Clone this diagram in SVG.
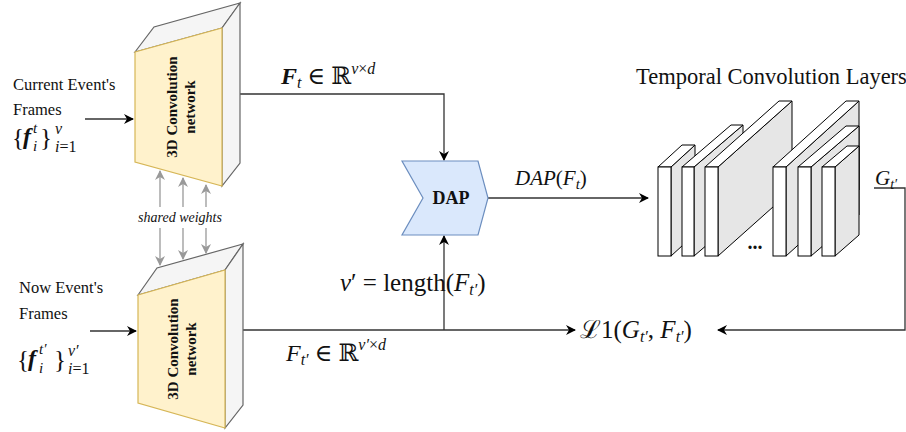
<svg xmlns="http://www.w3.org/2000/svg" width="906" height="432" viewBox="0 0 906 432">
<defs>
<marker id="ah" viewBox="0 0 10 10" refX="9" refY="5" markerWidth="10" markerHeight="10" markerUnits="userSpaceOnUse" orient="auto">
<path d="M0,0 L10,5 L0,10 L3,5 z" fill="#000"/>
</marker>
<marker id="ahg" viewBox="0 0 10 10" refX="9" refY="5" markerWidth="10" markerHeight="10" markerUnits="userSpaceOnUse" orient="auto">
<path d="M0,0 L10,5 L0,10 L3,5 z" fill="#999"/>
</marker>
<style>
.t{font-family:"Liberation Serif","DejaVu Serif",serif;fill:#111;}
.m{font-family:"Liberation Serif","DejaVu Serif",serif;fill:#111;}
.i{font-style:italic;}
.b{font-weight:bold;}
.front{fill:#fff2cc;stroke:#d6b656;stroke-width:1.2;}
.side{fill:#f5f5f5;stroke:#666;stroke-width:1.2;}
.ln{fill:none;stroke:#333;stroke-width:1.3;}
.lg{fill:none;stroke:#999;stroke-width:1.3;}
.sf{fill:#fff;stroke:#000;stroke-width:1;}
.ss{fill:#e6e6e6;stroke:#000;stroke-width:1;}
</style>
</defs>
<rect width="906" height="432" fill="#fff"/>

<g id="connectors">
<path class="ln" d="M85,119 L133,119" marker-end="url(#ah)"/>
<path class="ln" d="M90,331 L136,331" marker-end="url(#ah)"/>
<path class="ln" d="M240,94 L444,94 L444,160" marker-end="url(#ah)"/>
<path class="ln" d="M243,330 L575,330" marker-end="url(#ah)"/>
<path class="ln" d="M444,330 L444,236" marker-end="url(#ah)"/>
<path class="ln" d="M488,198 L648,198" marker-end="url(#ah)"/>
<path class="ln" d="M874,188 L905,188 L905,330 L718,330" marker-end="url(#ah)"/>
<path class="lg" d="M160,207 L160,171" marker-end="url(#ahg)"/>
<path class="lg" d="M183,207 L183,178" marker-end="url(#ahg)"/>
<path class="lg" d="M206,207 L206,185" marker-end="url(#ahg)"/>
<path class="lg" d="M160,228 L160,265" marker-end="url(#ahg)"/>
<path class="lg" d="M183,228 L183,259" marker-end="url(#ahg)"/>
<path class="lg" d="M206,228 L206,253" marker-end="url(#ahg)"/>
</g>

<g id="conv3d-top">
<path class="side" d="M135,52 L154,27 L240,3 L222,28 z"/>
<path class="side" d="M222,28 L240,3 L240,163 L222,186 z"/>
<path class="front" d="M135,52 L222,28 L222,186 L135,162 z"/>
<text class="t b" font-size="15" text-anchor="middle" transform="translate(177,107) rotate(-90)">3D Convolution</text>
<text class="t b" font-size="15" text-anchor="middle" transform="translate(195,107) rotate(-90)">network</text>
</g>

<g id="conv3d-bottom">
<path class="side" d="M138,295 L157,268 L243,244 L225,270 z"/>
<path class="side" d="M225,270 L243,244 L243,405 L225,428 z"/>
<path class="front" d="M138,295 L225,270 L225,428 L138,403 z"/>
<text class="t b" font-size="15" text-anchor="middle" transform="translate(178,349) rotate(-90)">3D Convolution</text>
<text class="t b" font-size="15" text-anchor="middle" transform="translate(196,349) rotate(-90)">network</text>
</g>

<g id="dap">
<path d="M402,161 L478,161 L488,198 L478,235 L402,235 L423,198 z" fill="#dae8fc" stroke="#6c8ebf" stroke-width="1.2"/>
<text class="t b" font-size="18" x="451" y="204" text-anchor="middle">DAP</text>
</g>

<g id="temporal-layers">
<path class="ss" d="M671,167 L695,145 L695,234 L671,256 z"/>
<path class="sf" d="M658,167 L682,145 L695,145 L671,167 z"/>
<rect class="sf" x="658" y="167" width="13" height="89"/>
<path class="ss" d="M694,167 L743,125 L743,214 L694,256 z"/>
<path class="sf" d="M682,167 L731,125 L743,125 L694,167 z"/>
<rect class="sf" x="682" y="167" width="12" height="89"/>
<path class="ss" d="M718,167 L792,101 L792,190 L718,256 z"/>
<path class="sf" d="M705,167 L779,101 L792,101 L718,167 z"/>
<rect class="sf" x="705" y="167" width="13" height="89"/>
<path class="ss" d="M786,167 L859,101 L859,190 L786,256 z"/>
<path class="sf" d="M773,167 L846,101 L859,101 L786,167 z"/>
<rect class="sf" x="773" y="167" width="13" height="89"/>
<path class="ss" d="M811,167 L859,126 L859,215 L811,256 z"/>
<path class="sf" d="M798,167 L846,126 L859,126 L811,167 z"/>
<rect class="sf" x="798" y="167" width="13" height="89"/>
<path class="ss" d="M835,167 L859,146 L859,235 L835,256 z"/>
<path class="sf" d="M822,167 L847,146 L859,146 L835,167 z"/>
<rect class="sf" x="822" y="167" width="13" height="89"/>
<text class="t b" font-size="20" x="755" y="249" text-anchor="middle">...</text>
</g>

<g id="labels">
<text class="t" font-size="16.5" x="13" y="90">Current Event's</text>
<text class="t" font-size="16.5" x="13" y="115">Frames</text>
<text class="t" font-size="16.5" x="19" y="293">Now Event's</text>
<text class="t" font-size="16.5" x="19" y="319">Frames</text>
<text class="t i" font-size="14" x="180" y="222" text-anchor="middle">shared weights</text>
<text class="t" font-size="22.5" x="636" y="84">Temporal Convolution Layers</text>

<!-- {f_i^t}_{i=1}^v -->
<text class="m" font-size="25" x="12" y="146">{</text>
<text class="m i b" font-size="24" x="23" y="144">f</text>
<text class="m i" font-size="15" x="33" y="133">t</text>
<text class="m i" font-size="15" x="33" y="151">i</text>
<text class="m" font-size="25" x="40" y="146">}</text>
<text class="m i" font-size="16" x="55" y="134">v</text>
<text class="m" font-size="16" x="55" y="152"><tspan font-style="italic">i</tspan>=1</text>

<!-- {f_i^t'}_{i=1}^v' -->
<text class="m" font-size="25" x="17" y="368">{</text>
<text class="m i b" font-size="24" x="28" y="366">f</text>
<text class="m i" font-size="15" x="39" y="354">t′</text>
<text class="m i" font-size="15" x="39" y="373">i</text>
<text class="m" font-size="25" x="54" y="368">}</text>
<text class="m i" font-size="16" x="68" y="356">v′</text>
<text class="m" font-size="16" x="68" y="374"><tspan font-style="italic">i</tspan>=1</text>

<!-- F_t in R^{v x d} -->
<text class="m" font-size="24" x="281" y="84"><tspan font-style="italic" font-weight="bold">F</tspan><tspan font-size="16" font-style="italic" dy="4">t</tspan><tspan dy="-4"> ∈ ℝ</tspan><tspan font-size="16" font-style="italic" dy="-10">v</tspan><tspan font-size="16">×</tspan><tspan font-size="16" font-style="italic">d</tspan></text>

<!-- F_t' in R^{v' x d} -->
<text class="m" font-size="24" x="286" y="361"><tspan font-style="italic">F</tspan><tspan font-size="16" font-style="italic" dy="4">t′</tspan><tspan dy="-4"> ∈ ℝ</tspan><tspan font-size="16" font-style="italic" dy="-11">v′</tspan><tspan font-size="16">×</tspan><tspan font-size="16" font-style="italic">d</tspan></text>

<!-- DAP(F_t) -->
<text class="m" font-size="21" x="515" y="185"><tspan font-style="italic">DAP</tspan>(<tspan font-style="italic">F</tspan><tspan font-size="15" font-style="italic" dy="4">t</tspan><tspan dy="-4">)</tspan></text>

<!-- v' = length(F_t') -->
<text class="m" font-size="25" x="340" y="291"><tspan font-style="italic">v</tspan>′ = length(<tspan font-style="italic">F</tspan><tspan font-size="16" font-style="italic" dy="4">t′</tspan><tspan dy="-4">)</tspan></text>

<!-- L1(G_t', F_t') -->
<text class="m" font-size="25" x="580" y="338">ℒ1(<tspan font-style="italic">G</tspan><tspan font-size="16" font-style="italic" dy="4">t′</tspan><tspan dy="-4">, </tspan><tspan font-style="italic">F</tspan><tspan font-size="16" font-style="italic" dy="4">t′</tspan><tspan dy="-4">)</tspan></text>

<!-- G_t' -->
<text class="m" font-size="21" x="875" y="185"><tspan font-style="italic">G</tspan><tspan font-size="14" font-style="italic" dy="4">t′</tspan></text>
</g>
</svg>
